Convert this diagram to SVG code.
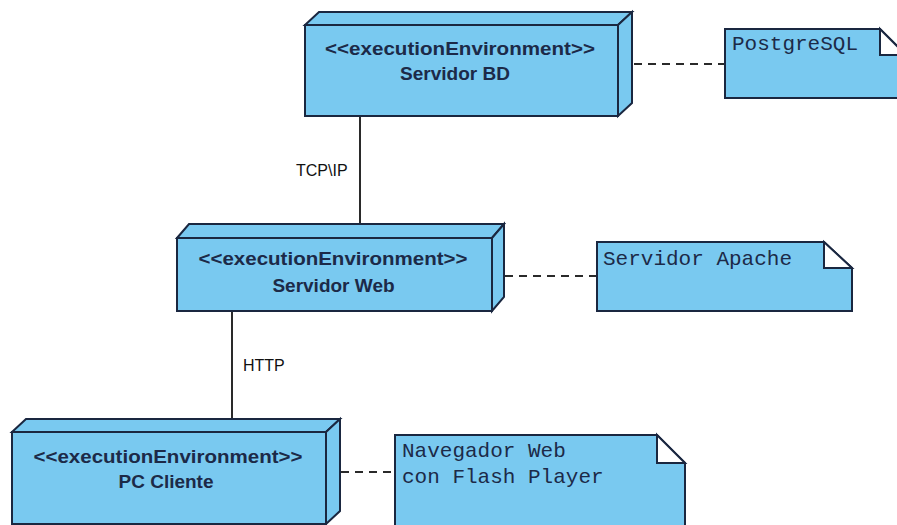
<svg xmlns="http://www.w3.org/2000/svg" width="897" height="525" viewBox="0 0 897 525">
  <style>
    .face { fill: #79c9f0; stroke: #1a2740; stroke-width: 2; stroke-linejoin: miter; }
    .fold { fill: #ffffff; stroke: #1a2740; stroke-width: 2; }
    .stereo { font-family: "Liberation Sans", Arial, sans-serif; font-weight: bold; font-size: 18px; fill: #1c2a48; text-anchor: middle; }
    .name { font-family: "Liberation Sans", Arial, sans-serif; font-weight: bold; font-size: 19px; fill: #1c2a48; text-anchor: middle; }
    .note { font-family: "Liberation Mono", "Courier New", monospace; font-size: 21px; fill: #1c2a48; }
    .label { font-family: "Liberation Sans", Arial, sans-serif; font-size: 16px; fill: #111111; }
    .link { stroke: #2a2a2a; stroke-width: 2; fill: none; }
    .dep { stroke: #2a2a2a; stroke-width: 2; fill: none; stroke-dasharray: 8 6; }
  </style>

  <!-- connectors -->
  <g id="connectors">
    <line class="link" x1="360" y1="116" x2="360" y2="238"/>
    <text class="label" x="296" y="176">TCP\IP</text>
    <line class="link" x1="232" y1="311" x2="232" y2="432"/>
    <text class="label" x="243" y="371">HTTP</text>
    <line class="dep" x1="634" y1="64" x2="725" y2="64"/>
    <line class="dep" x1="505" y1="276" x2="597" y2="276"/>
    <line class="dep" x1="341" y1="472" x2="395" y2="472"/>
  </g>

  <!-- Servidor BD -->
  <g id="servidor-bd">
    <polygon class="face" points="305,25 319,12 632,12 618,25"/>
    <polygon class="face" points="618,25 632,12 632,103 618,116"/>
    <rect class="face" x="305" y="25" width="313" height="91"/>
    <text class="stereo" x="460" y="55" textLength="270" lengthAdjust="spacingAndGlyphs">&lt;&lt;executionEnvironment&gt;&gt;</text>
    <text class="name" x="455" y="80">Servidor BD</text>
  </g>

  <!-- Servidor Web -->
  <g id="servidor-web">
    <polygon class="face" points="177,238 189,224 504,224 492,238"/>
    <polygon class="face" points="492,238 504,224 504,297 492,311"/>
    <rect class="face" x="177" y="238" width="315" height="73"/>
    <text class="stereo" x="333" y="265" textLength="269" lengthAdjust="spacingAndGlyphs">&lt;&lt;executionEnvironment&gt;&gt;</text>
    <text class="name" x="333.5" y="292">Servidor Web</text>
  </g>

  <!-- PC Cliente -->
  <g id="pc-cliente">
    <polygon class="face" points="12,432 26,419 340,419 326,432"/>
    <polygon class="face" points="326,432 340,419 340,511 326,524"/>
    <rect class="face" x="12" y="432" width="314" height="92"/>
    <text class="stereo" x="168" y="463" textLength="269" lengthAdjust="spacingAndGlyphs">&lt;&lt;executionEnvironment&gt;&gt;</text>
    <text class="name" x="166" y="488">PC Cliente</text>
  </g>

  <!-- PostgreSQL note -->
  <g id="note-postgresql">
    <polygon class="face" points="725,29 880,29 906,55 906,98 725,98"/>
    <polygon class="fold" points="880,29 906,55 880,55"/>
    <text class="note" x="732" y="50">PostgreSQL</text>
  </g>

  <!-- Servidor Apache note -->
  <g id="note-apache">
    <polygon class="face" points="597,242 824,242 852,268 852,311 597,311"/>
    <polygon class="fold" points="824,242 852,268 824,268"/>
    <text class="note" x="603" y="265">Servidor Apache</text>
  </g>

  <!-- Navegador Web note -->
  <g id="note-navegador">
    <polygon class="face" points="395,435 657,435 685,463 685,535 395,535"/>
    <polygon class="fold" points="657,435 685,463 657,463"/>
    <text class="note" x="402" y="457">Navegador Web</text>
    <text class="note" x="402" y="483">con Flash Player</text>
  </g>
</svg>
